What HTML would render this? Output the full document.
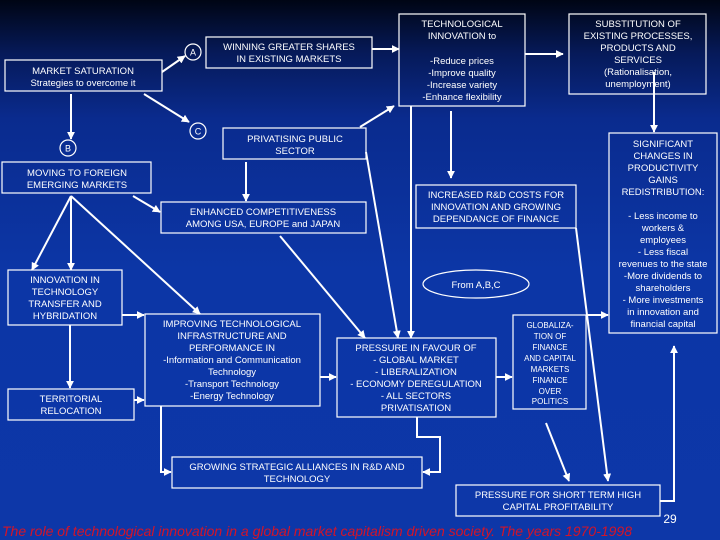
<!DOCTYPE html>
<html><head><meta charset="utf-8"><style>
html,body{margin:0;padding:0;}
body{width:720px;height:540px;overflow:hidden;background:linear-gradient(180deg,#000514 0%,#061a5a 10%,#0a2b8e 22%,#0c36a6 50%,#0d37a8 100%);}
svg{display:block;font-family:"Liberation Sans",sans-serif;}
text{fill:#fff;font-size:9.5px;text-anchor:middle;}
.b{fill:none;stroke:#fff;stroke-width:1.2;}
.l{fill:none;stroke:#fff;stroke-width:2;}
</style></head><body>
<svg width="720" height="540" viewBox="0 0 720 540">
<defs><marker id="a" viewBox="0 0 10 10" refX="9" refY="5" markerWidth="4" markerHeight="4" orient="auto"><path d="M0,0L10,5L0,10z" fill="#fff"/></marker></defs>
<rect class="b" x="5" y="60" width="157" height="31"/>
<rect class="b" x="206" y="37" width="166" height="31"/>
<rect class="b" x="223" y="128" width="143" height="31"/>
<rect class="b" x="2" y="162" width="149" height="31"/>
<rect class="b" x="161" y="202" width="205" height="31"/>
<rect class="b" x="399" y="14" width="126" height="92"/>
<rect class="b" x="569" y="14" width="137" height="80"/>
<rect class="b" x="416" y="185" width="160" height="43"/>
<rect class="b" x="609" y="133" width="108" height="200"/>
<ellipse class="b" cx="476" cy="284" rx="53" ry="14"/>
<rect class="b" x="8" y="270" width="114" height="55"/>
<rect class="b" x="8" y="389" width="126" height="31"/>
<rect class="b" x="145" y="314" width="175" height="92"/>
<rect class="b" x="337" y="338" width="159" height="79"/>
<rect class="b" x="513" y="315" width="73" height="94"/>
<rect class="b" x="172" y="457" width="250" height="31"/>
<rect class="b" x="456" y="485" width="204" height="31"/>
<circle class="b" cx="193" cy="52" r="8"/>
<circle class="b" cx="198" cy="131" r="8"/>
<circle class="b" cx="68" cy="148" r="8"/>
<g class="l" marker-end="url(#a)">
<line x1="162" y1="72" x2="185" y2="56"/>
<line x1="144" y1="94" x2="189" y2="122"/>
<line x1="71" y1="94" x2="71" y2="139"/>
<line x1="372" y1="49" x2="399" y2="49"/>
<line x1="360" y1="127" x2="394" y2="106"/>
<line x1="246" y1="162" x2="246" y2="201"/>
<line x1="133" y1="196" x2="160" y2="212"/>
<line x1="71" y1="196" x2="32" y2="270"/>
<line x1="71" y1="196" x2="71" y2="270"/>
<line x1="71" y1="196" x2="200" y2="314"/>
<line x1="280" y1="236" x2="365" y2="338"/>
<line x1="366" y1="152" x2="398" y2="338"/>
<line x1="411" y1="106" x2="411" y2="338"/>
<line x1="525" y1="54" x2="563" y2="54"/>
<line x1="451" y1="111" x2="451" y2="178"/>
<line x1="654" y1="72" x2="654" y2="132"/>
<line x1="576" y1="228" x2="608" y2="481"/>
<line x1="586" y1="315" x2="608" y2="315"/>
<line x1="546" y1="423" x2="569" y2="481"/>
<line x1="122" y1="315" x2="144" y2="315"/>
<line x1="70" y1="325" x2="70" y2="388"/>
<line x1="134" y1="400" x2="144" y2="400"/>
<line x1="320" y1="377" x2="336" y2="377"/>
<line x1="496" y1="377" x2="512" y2="377"/>
<polyline points="161,406 161,472 171,472"/>
<polyline points="417,417 417,437 440,437 440,472 423,472"/>
<polyline points="660,501 674,501 674,346"/>
</g>
<text x="83" y="74">MARKET SATURATION</text><text x="83" y="86">Strategies to overcome it</text>
<text x="193" y="55.5" style="font-size:9px">A</text>
<text x="198" y="134.5" style="font-size:9px">C</text>
<text x="68" y="151.5" style="font-size:9px">B</text>
<text x="289" y="50">WINNING GREATER SHARES</text><text x="289" y="62">IN EXISTING MARKETS</text>
<text x="295" y="142">PRIVATISING PUBLIC</text><text x="295" y="154">SECTOR</text>
<text x="77" y="176">MOVING TO FOREIGN</text><text x="77" y="188">EMERGING MARKETS</text>
<text x="263" y="215">ENHANCED COMPETITIVENESS</text><text x="263" y="227">AMONG USA, EUROPE and JAPAN</text>
<text x="462" y="27">TECHNOLOGICAL</text><text x="462" y="39">INNOVATION to</text>
<text x="462" y="64">-Reduce prices</text><text x="462" y="76">-Improve quality</text><text x="462" y="88">-Increase variety</text><text x="462" y="100">-Enhance flexibility</text>
<text x="638" y="27">SUBSTITUTION OF</text><text x="638" y="39">EXISTING PROCESSES,</text><text x="638" y="51">PRODUCTS AND</text><text x="638" y="63">SERVICES</text><text x="638" y="75">(Rationalisation,</text><text x="638" y="87">unemployment)</text>
<text x="496" y="198">INCREASED R&amp;D COSTS FOR</text><text x="496" y="210">INNOVATION AND GROWING</text><text x="496" y="222">DEPENDANCE OF FINANCE</text>
<text x="663" y="147">SIGNIFICANT</text><text x="663" y="159">CHANGES IN</text><text x="663" y="171">PRODUCTIVITY</text><text x="663" y="183">GAINS</text><text x="663" y="195">REDISTRIBUTION:</text>
<text x="663" y="219">- Less income to</text><text x="663" y="231">workers &amp;</text><text x="663" y="243">employees</text><text x="663" y="255">- Less fiscal</text><text x="663" y="267">revenues to the state</text><text x="663" y="279">-More dividends to</text><text x="663" y="291">shareholders</text><text x="663" y="303">- More investments</text><text x="663" y="315">in innovation and</text><text x="663" y="327">financial capital</text>
<text x="476" y="288">From A,B,C</text>
<text x="65" y="283">INNOVATION IN</text><text x="65" y="295">TECHNOLOGY</text><text x="65" y="307">TRANSFER AND</text><text x="65" y="319">HYBRIDATION</text>
<text x="71" y="402">TERRITORIAL</text><text x="71" y="414">RELOCATION</text>
<text x="232" y="327">IMPROVING TECHNOLOGICAL</text><text x="232" y="339">INFRASTRUCTURE AND</text><text x="232" y="351">PERFORMANCE IN</text><text x="232" y="363">-Information and Communication</text><text x="232" y="375">Technology</text><text x="232" y="387">-Transport Technology</text><text x="232" y="399">-Energy Technology</text>
<text x="416" y="351">PRESSURE IN FAVOUR OF</text><text x="416" y="363">- GLOBAL MARKET</text><text x="416" y="375">- LIBERALIZATION</text><text x="416" y="387">- ECONOMY DEREGULATION</text><text x="416" y="399">- ALL SECTORS</text><text x="416" y="411">PRIVATISATION</text>
<g><text x="550" y="328" style="font-size:8px">GLOBALIZA-</text><text x="550" y="339" style="font-size:8px">TION OF</text><text x="550" y="350" style="font-size:8px">FINANCE</text><text x="550" y="361" style="font-size:8px">AND CAPITAL</text><text x="550" y="372" style="font-size:8px">MARKETS</text><text x="550" y="383" style="font-size:8px">FINANCE</text><text x="550" y="394" style="font-size:8px">OVER</text><text x="550" y="404" style="font-size:8px">POLITICS</text></g>
<text x="297" y="470">GROWING STRATEGIC ALLIANCES IN R&amp;D AND</text><text x="297" y="482">TECHNOLOGY</text>
<text x="558" y="498">PRESSURE FOR SHORT TERM HIGH</text><text x="558" y="510">CAPITAL PROFITABILITY</text>
<text x="670" y="523" style="font-size:12px">29</text>
<text x="2" y="536" textLength="630" lengthAdjust="spacingAndGlyphs" style="text-anchor:start;fill:#d41428;font-size:14px;font-style:italic">The role of technological innovation in a global market capitalism driven society. The years 1970-1998</text>
</svg>
</body></html>
